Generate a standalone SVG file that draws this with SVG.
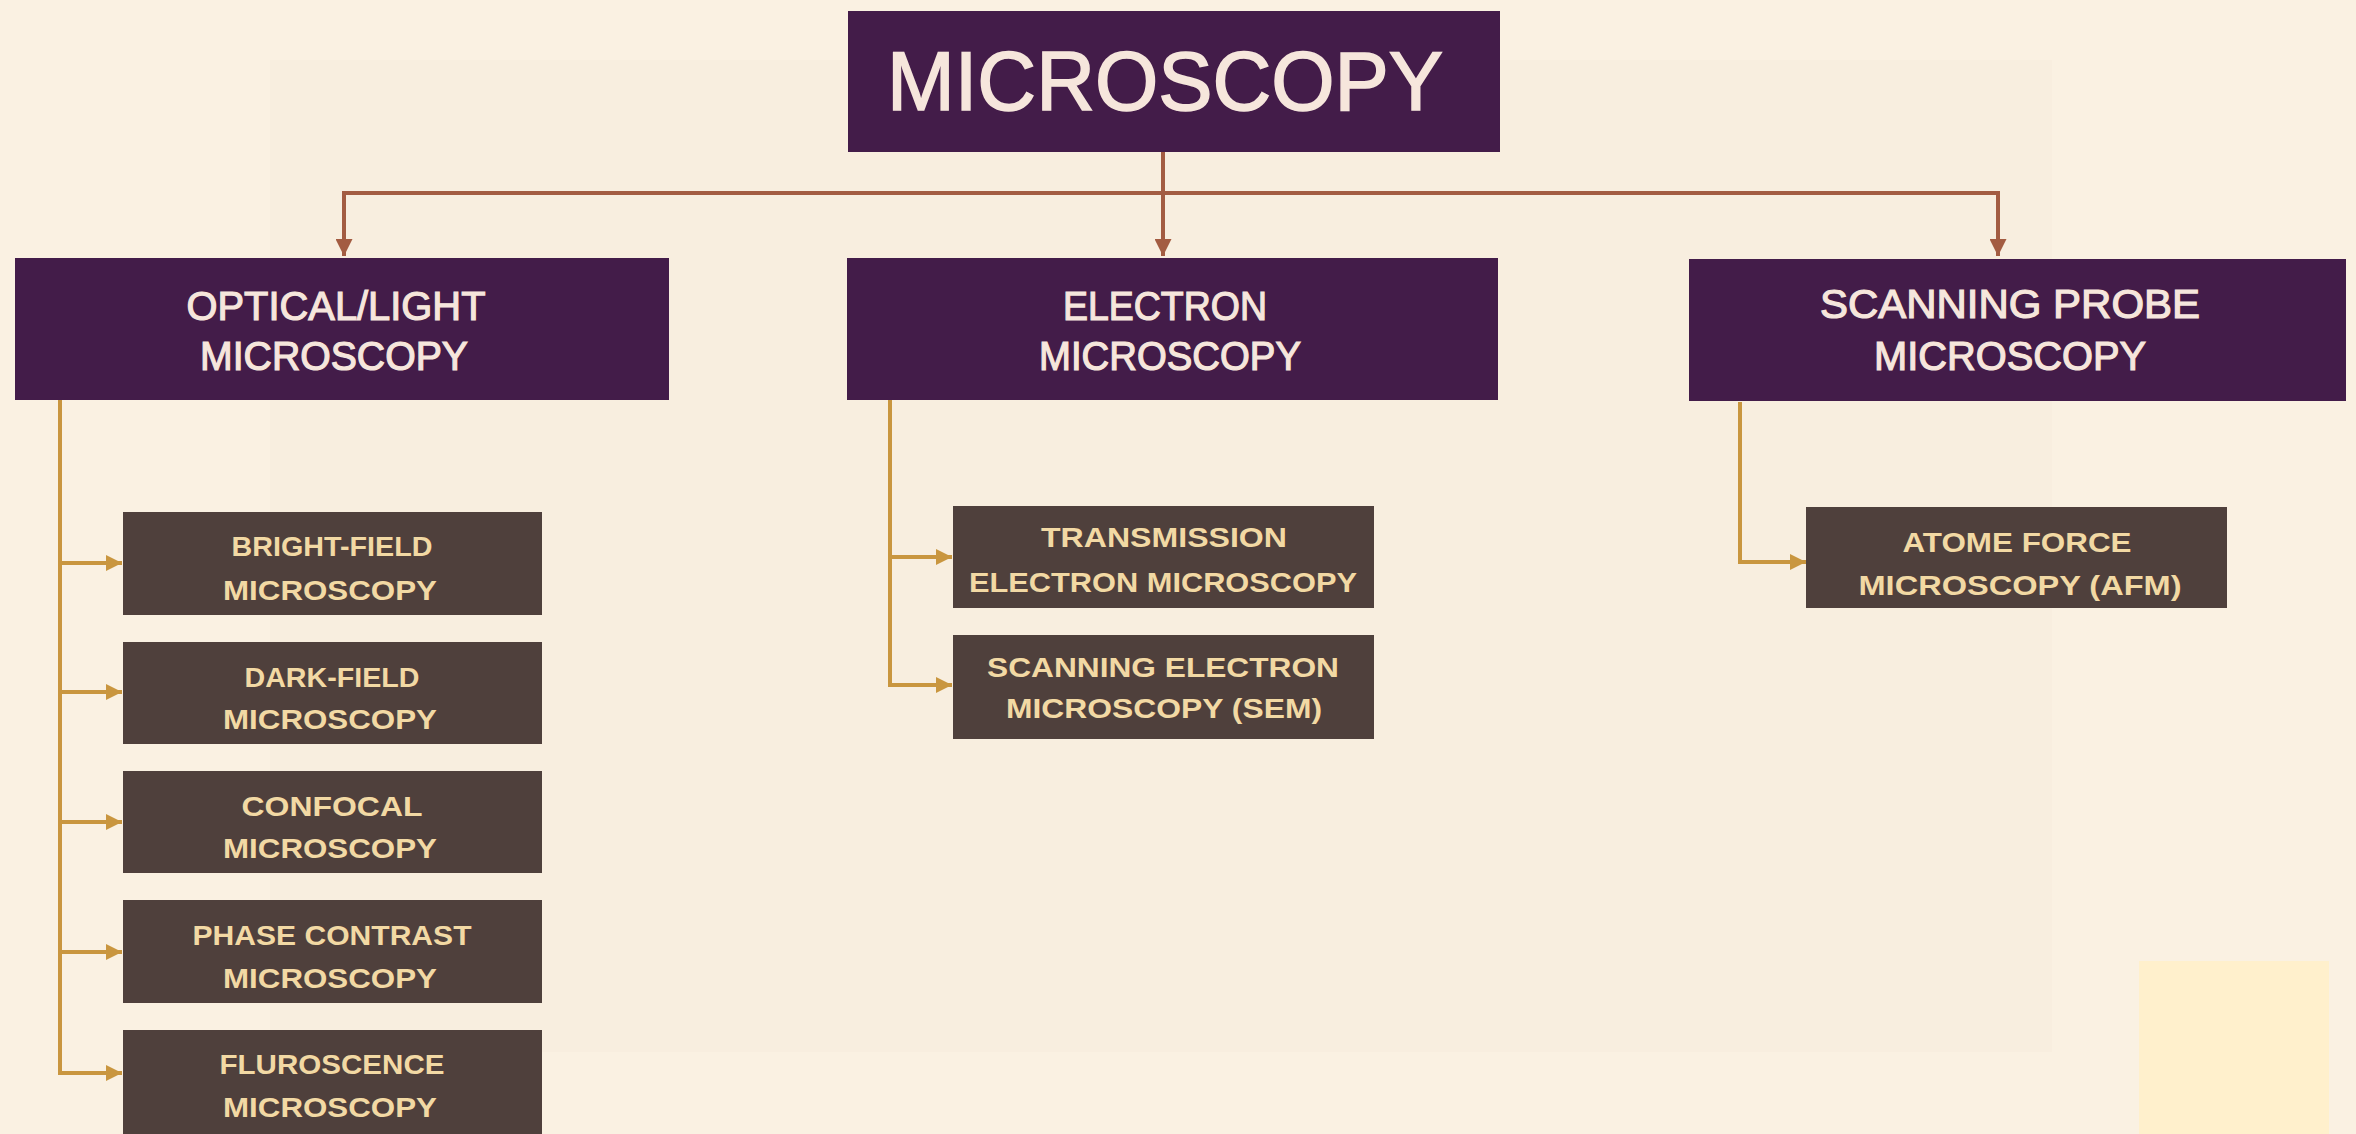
<svg xmlns="http://www.w3.org/2000/svg" width="2356" height="1134" viewBox="0 0 2356 1134">
<defs>
<style>
.bg{fill:#faf1e2}
.main{fill:#431c49}
.sub{fill:#4f403c}
.t1{font-family:"Liberation Sans",Arial,sans-serif;fill:#f6e6dc;text-anchor:middle;stroke:#f6e6dc;stroke-width:1.2}
.t2{font-family:"Liberation Sans",Arial,sans-serif;font-weight:bold;fill:#f2d9a4;text-anchor:middle;font-size:28px}
.top{stroke:#a35c42;stroke-width:4;fill:none}
.gold{stroke:#c9963f;stroke-width:4;fill:none}
</style>
<marker id="ahTop" viewBox="0 0 10 10" refX="10" refY="5" markerUnits="userSpaceOnUse" markerWidth="18" markerHeight="17" orient="auto"><path d="M0,0 L10,5 L0,10 z" fill="#a35c42"/></marker>
<marker id="ahGold" viewBox="0 0 10 10" refX="10" refY="5" markerUnits="userSpaceOnUse" markerWidth="18" markerHeight="16" orient="auto"><path d="M0,0 L10,5 L0,10 z" fill="#c9963f"/></marker>
</defs>
<rect class="bg" x="0" y="0" width="2356" height="1134"/>
<rect x="270" y="60" width="1782" height="992" fill="#f6ecdb" opacity="0.5"/>
<rect x="2139" y="961" width="190" height="173" fill="#fff0cc"/>

<g id="connectors">
<path class="top" d="M1163,152 V250"/>
<path class="top" d="M344,193 H1998"/>
<path class="top" d="M344,191 V256" marker-end="url(#ahTop)"/>
<path class="top" d="M1163,200 V256" marker-end="url(#ahTop)"/>
<path class="top" d="M1998,191 V256" marker-end="url(#ahTop)"/>
<path class="gold" d="M60,400 V1073"/>
<path class="gold" d="M58,563 H122" marker-end="url(#ahGold)"/>
<path class="gold" d="M58,692 H122" marker-end="url(#ahGold)"/>
<path class="gold" d="M58,822 H122" marker-end="url(#ahGold)"/>
<path class="gold" d="M58,952 H122" marker-end="url(#ahGold)"/>
<path class="gold" d="M58,1073 H122" marker-end="url(#ahGold)"/>
<path class="gold" d="M890,400 V685"/>
<path class="gold" d="M888,557 H952" marker-end="url(#ahGold)"/>
<path class="gold" d="M888,685 H952" marker-end="url(#ahGold)"/>
<path class="gold" d="M1740,402 V562"/>
<path class="gold" d="M1738,562 H1806" marker-end="url(#ahGold)"/>
</g>

<g id="microscopy">
<rect class="main" x="848" y="11" width="652" height="141"/>
<text class="t1" x="1165" y="110" font-size="83" textLength="556" lengthAdjust="spacingAndGlyphs" style="stroke-width:1.6">MICROSCOPY</text>
</g>

<g id="optical">
<rect class="main" x="15" y="258" width="654" height="142"/>
<text class="t1" x="336" y="320" font-size="41" textLength="299" lengthAdjust="spacingAndGlyphs">OPTICAL/LIGHT</text>
<text class="t1" x="334" y="370" font-size="40" textLength="268" lengthAdjust="spacingAndGlyphs">MICROSCOPY</text>
</g>

<g id="electron">
<rect class="main" x="847" y="258" width="651" height="142"/>
<text class="t1" x="1165" y="320" font-size="41" textLength="204" lengthAdjust="spacingAndGlyphs">ELECTRON</text>
<text class="t1" x="1170" y="370" font-size="40" textLength="262" lengthAdjust="spacingAndGlyphs">MICROSCOPY</text>
</g>

<g id="scanning-probe">
<rect class="main" x="1689" y="259" width="657" height="142"/>
<text class="t1" x="2010" y="318" font-size="41" textLength="380" lengthAdjust="spacingAndGlyphs">SCANNING PROBE</text>
<text class="t1" x="2010" y="370" font-size="40" textLength="272" lengthAdjust="spacingAndGlyphs">MICROSCOPY</text>
</g>

<g id="bright-field">
<rect class="sub" x="123" y="512" width="419" height="103"/>
<text class="t2" x="332" y="556" textLength="201" lengthAdjust="spacingAndGlyphs">BRIGHT-FIELD</text>
<text class="t2" x="330" y="600" textLength="214" lengthAdjust="spacingAndGlyphs">MICROSCOPY</text>
</g>

<g id="dark-field">
<rect class="sub" x="123" y="642" width="419" height="102"/>
<text class="t2" x="332" y="687" textLength="175" lengthAdjust="spacingAndGlyphs">DARK-FIELD</text>
<text class="t2" x="330" y="729" textLength="214" lengthAdjust="spacingAndGlyphs">MICROSCOPY</text>
</g>

<g id="confocal">
<rect class="sub" x="123" y="771" width="419" height="102"/>
<text class="t2" x="332" y="816" textLength="181" lengthAdjust="spacingAndGlyphs">CONFOCAL</text>
<text class="t2" x="330" y="858" textLength="214" lengthAdjust="spacingAndGlyphs">MICROSCOPY</text>
</g>

<g id="phase-contrast">
<rect class="sub" x="123" y="900" width="419" height="103"/>
<text class="t2" x="332" y="945" textLength="279" lengthAdjust="spacingAndGlyphs">PHASE CONTRAST</text>
<text class="t2" x="330" y="988" textLength="214" lengthAdjust="spacingAndGlyphs">MICROSCOPY</text>
</g>

<g id="fluroscence">
<rect class="sub" x="123" y="1030" width="419" height="104"/>
<text class="t2" x="332" y="1074" textLength="225" lengthAdjust="spacingAndGlyphs">FLUROSCENCE</text>
<text class="t2" x="330" y="1117" textLength="214" lengthAdjust="spacingAndGlyphs">MICROSCOPY</text>
</g>

<g id="tem">
<rect class="sub" x="953" y="506" width="421" height="102"/>
<text class="t2" x="1164" y="547" textLength="246" lengthAdjust="spacingAndGlyphs">TRANSMISSION</text>
<text class="t2" x="1163" y="592" textLength="388" lengthAdjust="spacingAndGlyphs">ELECTRON MICROSCOPY</text>
</g>

<g id="sem">
<rect class="sub" x="953" y="635" width="421" height="104"/>
<text class="t2" x="1163" y="677" textLength="352" lengthAdjust="spacingAndGlyphs">SCANNING ELECTRON</text>
<text class="t2" x="1164" y="718" textLength="316" lengthAdjust="spacingAndGlyphs">MICROSCOPY (SEM)</text>
</g>

<g id="afm">
<rect class="sub" x="1806" y="507" width="421" height="101"/>
<text class="t2" x="2017" y="552" textLength="229" lengthAdjust="spacingAndGlyphs">ATOME FORCE</text>
<text class="t2" x="2020" y="595" textLength="323" lengthAdjust="spacingAndGlyphs">MICROSCOPY (AFM)</text>
</g>
</svg>
